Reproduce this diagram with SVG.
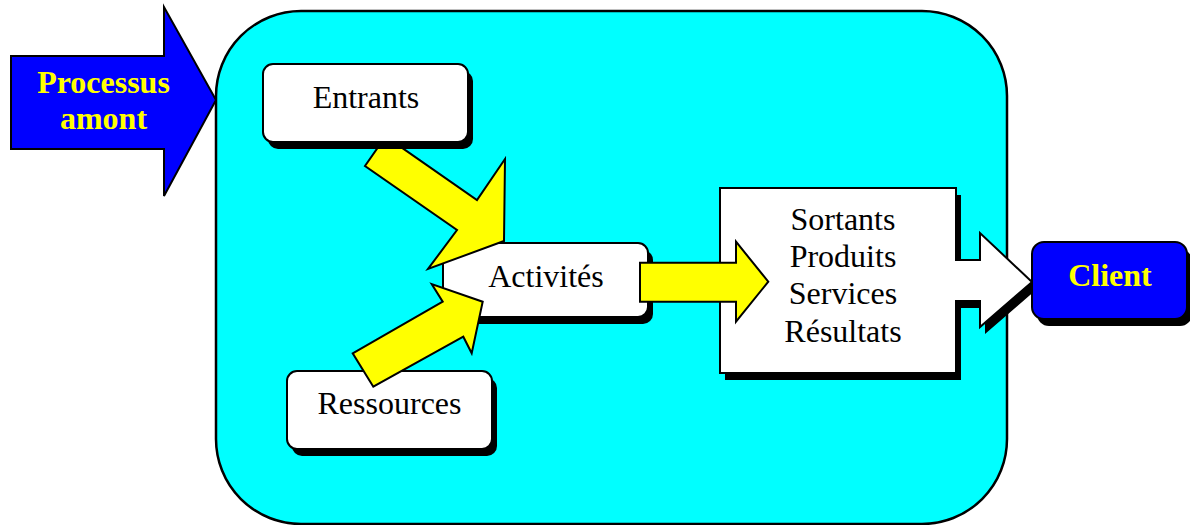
<svg xmlns="http://www.w3.org/2000/svg" width="1190" height="525" viewBox="0 0 1190 525">
<style>
.ln{stroke:#000;stroke-width:2;stroke-linejoin:miter}
.sh{fill:#000}
.wb{fill:#fff}
.yl{fill:#ffff00}
.bl{fill:#0000ff}
.t{font-family:"Liberation Serif","Times New Roman",serif;font-size:32px;fill:#000;text-anchor:middle}
.tb{font-family:"Liberation Serif","Times New Roman",serif;font-size:32px;font-weight:bold;fill:#ffff00;text-anchor:middle}
</style>
<rect width="1190" height="525" fill="#fff"/>
<g id="process">
<rect x="216" y="11" width="791" height="513" rx="85" ry="85" fill="#00ffff" stroke="#000" stroke-width="2.5"/>
</g>
<g id="activites">
<rect class="sh" x="448" y="250" width="205" height="74" rx="10"/>
<rect class="wb ln" x="443" y="243" width="205" height="74" rx="10"/>
<text class="t" x="546" y="287">Activités</text>
</g>
<g id="sortants">
<path class="sh" transform="translate(5,7)" d="M720,188 L956,188 L956,260 L980,260 L980,233 L1032,282 L980,327 L980,301 L956,301 L956,373 L720,373 Z"/>
<path class="wb ln" d="M720,188 L956,188 L956,260 L980,260 L980,233 L1032,282 L980,327 L980,301 L956,301 L956,373 L720,373 Z"/>
<text class="t" x="843" y="230">Sortants</text>
<text class="t" x="843" y="267">Produits</text>
<text class="t" x="843" y="304">Services</text>
<text class="t" x="843" y="342">Résultats</text>
</g>
<g id="ressources">
<rect class="sh" x="292" y="378" width="205" height="78" rx="10"/>
<rect class="wb ln" x="287" y="371" width="205" height="78" rx="10"/>
<text class="t" x="389.5" y="414">Ressources</text>
</g>
<g id="connectors">
<polygon class="yl ln" points="385.6,136.4 477,200 505,159 504,241 428,269 457,230 365,166"/>
<polygon class="yl ln" points="352.7,353.3 442.7,301.7 431.7,284 482.7,301.7 471.7,353.3 463.3,336.7 373.3,386.7"/>
<polygon class="yl ln" points="640,262.7 736,262.7 736,241.7 768.3,281.7 736,321.7 736,301.7 640,301.7"/>
</g>
<g id="entrants">
<rect class="sh" x="268" y="71" width="205" height="78" rx="10"/>
<rect class="wb ln" x="263" y="64" width="205" height="78" rx="10"/>
<text class="t" x="366" y="108">Entrants</text>
</g>
<g id="client">
<rect class="sh" x="1037" y="249" width="155" height="77" rx="12"/>
<rect class="bl ln" x="1032" y="242" width="155" height="77" rx="12"/>
<text class="tb" x="1110" y="286">Client</text>
</g>
<g id="processus-amont">
<polygon class="bl ln" points="11,56 164,56 164,7 216,100 164,196 164,149 11,149"/>
<text class="tb" x="103.5" y="93">Processus</text>
<text class="tb" x="103.5" y="129">amont</text>
</g>
</svg>
